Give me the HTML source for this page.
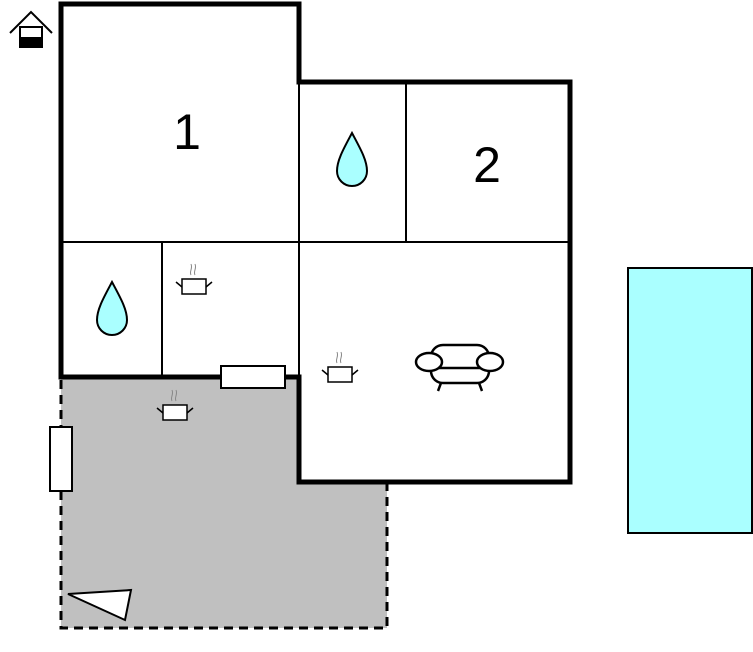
<!DOCTYPE html>
<html><head><meta charset="utf-8"><style>html,body{margin:0;padding:0;background:#fff}svg{display:block}</style></head><body>
<svg width="753" height="652" viewBox="0 0 753 652" xmlns="http://www.w3.org/2000/svg">
<polygon points="61,377 299,377 299,482 387,482 387,628 61,628" fill="#c0c0c0"/>
<polyline points="61,491 61,628 387,628 387,482" fill="none" stroke="#000" stroke-width="3" stroke-dasharray="9,6"/>
<line x1="61" y1="380" x2="61" y2="427" stroke="#000" stroke-width="3" stroke-dasharray="9,6"/>
<rect x="628" y="268" width="124" height="265" fill="#aaffff" stroke="#000" stroke-width="2"/>
<g stroke="#000" stroke-width="2" fill="none">
<line x1="61" y1="242" x2="570" y2="242"/>
<line x1="162" y1="242" x2="162" y2="377"/>
<line x1="299" y1="82" x2="299" y2="482"/>
<line x1="406" y1="82" x2="406" y2="242"/>
</g>
<polygon points="61,4 299,4 299,82 570,82 570,482 299,482 299,377 61,377" fill="none" stroke="#000" stroke-width="5"/>
<rect x="221" y="366" width="64" height="22" fill="#fff" stroke="#000" stroke-width="2"/>
<rect x="50" y="427" width="22" height="64" fill="#fff" stroke="#000" stroke-width="2"/>
<polygon points="68,594 131,590 125,620" fill="#fff" stroke="#000" stroke-width="2"/>
<text x="187" y="149" font-family="Liberation Sans,sans-serif" font-size="50" text-anchor="middle">1</text>
<text x="487" y="182" font-family="Liberation Sans,sans-serif" font-size="50" text-anchor="middle">2</text>
<g fill="#aaffff" stroke="#000" stroke-width="2">
<path d="M352,133 C344,148 337,160 337,171 A15,15 0 0 0 367,171 C367,160 360,148 352,133 Z"/>
<path d="M112,282 C104,297 97,309 97,320 A15,15 0 0 0 127,320 C127,309 120,297 112,282 Z"/>
</g>
<g stroke="#000" stroke-width="2" fill="none">
<polyline points="10,33 31,12 52,33"/>
<rect x="20" y="27" width="22" height="20" fill="#fff"/>
</g>
<rect x="19" y="37" width="24" height="11" fill="#000"/>
<g id="pot" stroke="#000" stroke-width="1.5" fill="#fff">
<rect x="182" y="279" width="24" height="15"/>
<line x1="176" y1="282" x2="182" y2="287"/>
<line x1="212" y1="282" x2="206" y2="287"/>
<path d="M191,275 c-2,-4 2,-6 0,-11 M195,275 c-2,-4 2,-6 0,-11" stroke="#888" fill="none" stroke-width="1"/>
</g>
<use href="#pot" transform="translate(-19,126)"/>
<use href="#pot" transform="translate(146,88)"/>
<g stroke="#000" stroke-width="2.5" fill="#fff">
<rect x="431" y="345" width="58" height="38" rx="12"/>
<line x1="441" y1="383" x2="438" y2="391"/>
<line x1="479" y1="383" x2="482" y2="391"/>
<line x1="434" y1="368" x2="486" y2="368"/>
<ellipse cx="429" cy="362" rx="13" ry="9"/>
<ellipse cx="490" cy="362" rx="13" ry="9"/>
</g>
</svg>
</body></html>
